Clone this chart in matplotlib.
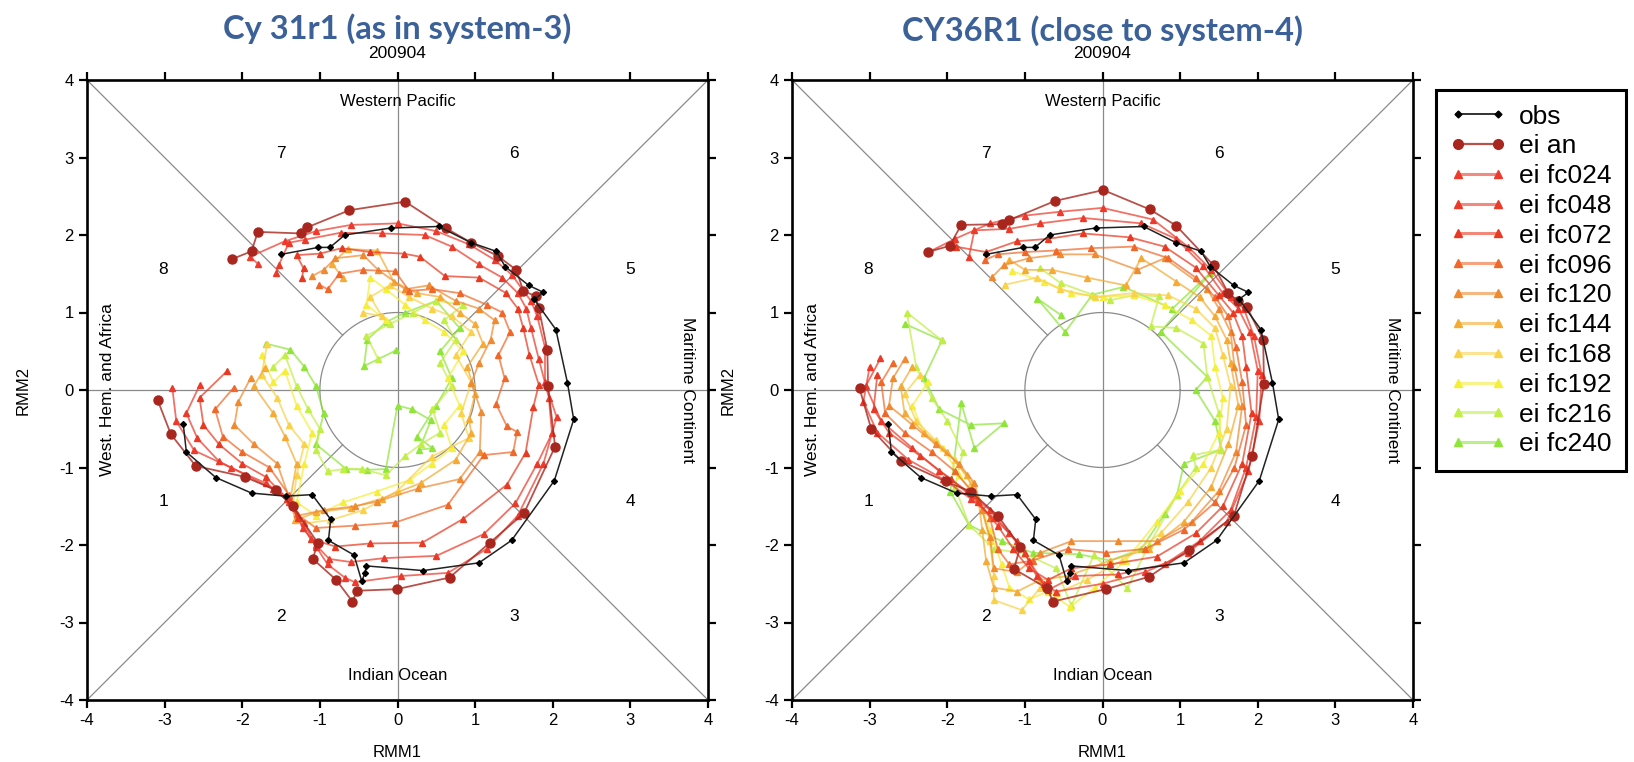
import numpy as np
import matplotlib.pyplot as plt
from matplotlib.colors import to_rgba
from matplotlib.lines import Line2D

plt.rcParams['font.family'] = ['Liberation Sans', 'DejaVu Sans']
plt.rcParams['axes.unicode_minus'] = False

# ---------------- data (RMM1, RMM2) ----------------
obs = [(-2.76, -0.44), (-2.72, -0.80), (-2.34, -1.13), (-1.88, -1.33), (-1.44, -1.37),
       (-1.10, -1.35), (-0.86, -1.67), (-0.89, -1.94), (-0.56, -2.13), (-0.46, -2.47),
       (-0.42, -2.36), (-0.40, -2.27), (0.33, -2.33), (1.05, -2.23), (1.47, -1.94),
       (2.02, -1.17), (2.27, -0.38), (2.19, 0.09), (2.04, 0.78), (1.76, 1.17),
       (1.88, 1.26), (1.69, 1.35), (1.39, 1.59), (1.27, 1.79), (0.95, 1.90),
       (0.53, 2.11), (-0.09, 2.09), (-0.68, 2.00), (-0.87, 1.84), (-1.02, 1.84), (-1.50, 1.75)]

# left panel: Cy31r1
an_left = [(-3.09, -0.13), (-2.92, -0.57), (-2.60, -0.98), (-1.97, -1.12), (-1.57, -1.29),
           (-1.35, -1.50), (-1.03, -1.97), (-1.09, -2.18), (-0.79, -2.45), (-0.58, -2.73),
           (-0.52, -2.59), (-0.01, -2.57), (0.67, -2.42), (1.19, -1.97), (1.63, -1.59),
           (2.03, -0.73), (1.94, 0.05), (1.93, 0.52), (1.82, 1.06), (1.78, 1.21), (1.62, 1.28),
           (1.53, 1.55), (1.29, 1.73), (0.95, 1.90), (0.62, 2.09), (0.10, 2.43), (-0.62, 2.32),
           (-1.16, 2.10), (-1.24, 2.02), (-1.80, 2.04), (-1.88, 1.79), (-2.13, 1.69)]

fc024_left = [(-2.90, 0.02), (-2.85, -0.40), (-2.62, -0.78), (-2.15, -1.00), (-1.70, -1.20),
              (-1.40, -1.40), (-1.20, -1.72), (-1.05, -2.02), (-0.90, -2.25), (-0.68, -2.42),
              (-0.55, -2.48), (0.05, -2.40), (0.65, -2.36), (1.15, -2.05), (1.55, -1.62),
              (1.88, -0.95), (2.05, -0.35), (1.90, 0.10), (1.90, 0.55), (1.80, 0.95),
              (1.72, 1.15), (1.62, 1.28), (1.48, 1.48), (1.25, 1.68), (0.92, 1.88), (0.50, 2.05),
              (0.00, 2.15), (-0.60, 2.13), (-1.05, 2.05), (-1.45, 1.92), (-1.90, 1.72), (-1.80, 1.63)]
fc048_left = [(-2.55, 0.06), (-2.72, -0.30), (-2.58, -0.62), (-2.30, -0.92), (-1.95, -1.10),
              (-1.60, -1.28), (-1.40, -1.44), (-1.22, -1.78), (-1.05, -2.00), (-0.88, -2.18),
              (-0.60, -2.22), (-0.18, -2.17), (0.50, -2.14), (1.11, -1.86), (1.52, -1.46),
              (1.80, -0.95), (1.99, -0.56), (1.95, -0.10), (1.82, 0.40), (1.72, 0.80),
              (1.66, 1.05), (1.55, 1.25), (1.35, 1.45), (1.05, 1.62), (0.70, 1.85), (0.35, 2.00),
              (-0.20, 2.02), (-0.73, 2.03), (-1.19, 1.94), (-1.40, 1.90), (-1.53, 1.61), (-1.56, 1.51)]
fc072_left = [(-2.20, 0.24), (-2.55, -0.10), (-2.50, -0.45), (-2.30, -0.70), (-2.00, -0.95),
              (-1.70, -1.12), (-1.42, -1.40), (-1.28, -1.65), (-1.12, -1.92), (-0.80, -2.02),
              (-0.35, -1.98), (0.32, -1.97), (0.85, -1.66), (1.41, -1.22), (1.65, -0.81),
              (1.75, -0.22), (1.82, 0.07), (1.70, 0.45), (1.62, 0.80), (1.55, 1.05), (1.40, 1.25),
              (1.05, 1.45), (0.61, 1.47), (0.29, 1.72), (0.08, 1.76), (-0.35, 1.78), (-0.72, 1.83),
              (-1.00, 1.76), (-1.30, 1.74), (-1.21, 1.57), (-1.23, 1.44)]
fc096_left = [(-2.11, 0.03), (-2.35, -0.25), (-2.25, -0.60), (-2.00, -0.80), (-1.65, -1.00),
              (-1.40, -1.35), (-1.30, -1.60), (-1.05, -1.78), (-0.55, -1.75), (-0.03, -1.71),
              (0.65, -1.48), (1.11, -0.84), (1.49, -0.80), (1.54, -0.54), (1.41, -0.47),
              (1.27, -0.18), (1.38, 0.15), (1.30, 0.45), (1.45, 0.75), (1.35, 1.00), (1.15, 1.10),
              (0.80, 1.25), (0.45, 1.30), (0.15, 1.28), (-0.03, 1.53), (-0.45, 1.55),
              (-0.75, 1.50), (-0.90, 1.30), (-1.01, 1.36)]
fc120_left = [(-1.89, 0.16), (-2.05, -0.15), (-2.10, -0.45), (-1.85, -0.70), (-1.55, -0.95),
              (-1.40, -1.38), (-1.28, -1.62), (-0.95, -1.55), (-0.55, -1.50), (-0.27, -1.44),
              (0.27, -1.27), (0.80, -1.15), (1.06, -0.80), (1.08, -0.28), (0.95, 0.09),
              (1.05, 0.35), (1.20, 0.65), (1.25, 0.90), (1.05, 1.05), (0.75, 1.15), (0.40, 1.35),
              (0.10, 1.30), (-0.25, 1.55), (-0.44, 1.74), (-0.80, 1.70), (-0.95, 1.55), (-1.10, 1.47)]
fc144_left = [(-1.71, 0.29), (-1.85, 0.05), (-1.60, -0.30), (-1.45, -0.60), (-1.30, -0.95),
              (-1.38, -1.40), (-1.32, -1.68), (-1.05, -1.58), (-0.60, -1.52), (-0.20, -1.40),
              (0.30, -1.20), (0.75, -0.90), (0.95, -0.55), (0.92, -0.37), (1.00, -0.05),
              (0.90, 0.30), (1.10, 0.60), (1.00, 0.85), (0.80, 1.00), (0.55, 1.20), (0.25, 1.25),
              (-0.05, 1.40), (-0.26, 1.80), (-0.64, 1.82), (-0.85, 1.63), (-0.70, 1.45)]
fc168_left = [(-1.68, 0.59), (-1.75, 0.20), (-1.55, -0.10), (-1.40, -0.45), (-1.20, -0.70),
              (-1.30, -1.10), (-1.35, -1.50), (-1.20, -1.72), (-0.87, -1.68), (-0.44, -1.55),
              (0.00, -1.30), (0.44, -0.86), (0.92, -0.62), (0.82, -0.30), (0.95, 0.10),
              (0.75, 0.45), (0.95, 0.75), (0.70, 0.95), (0.45, 1.05), (0.15, 1.20), (-0.10, 1.35),
              (-0.35, 1.20), (-0.20, 0.95), (-0.45, 1.00)]
fc192_left = [(-1.75, 0.45), (-1.60, 0.10), (-1.45, 0.25), (-1.30, -0.20), (-1.10, -0.55),
              (-1.20, -0.95), (-1.30, -1.45), (-1.05, -1.62), (-0.70, -1.45), (-0.27, -1.31),
              (0.16, -1.16), (0.44, -0.95), (0.70, -0.75), (0.60, -0.45), (0.80, -0.20),
              (0.65, 0.15), (0.85, 0.50), (0.60, 0.75), (0.35, 0.90), (0.10, 1.10), (-0.15, 1.30),
              (-0.35, 1.45), (-0.40, 1.10), (-0.15, 0.90)]
fc216_left = [(-1.60, 0.30), (-1.45, 0.45), (-1.30, 0.05), (-1.15, -0.25), (-1.00, -0.50),
              (-1.05, -0.77), (-0.90, -1.05), (-0.70, -1.02), (-0.46, -1.02), (-0.15, -1.10),
              (0.10, -0.85), (0.30, -0.70), (0.55, -0.55), (0.45, -0.25), (0.70, 0.05),
              (0.55, 0.35), (0.75, 0.65), (0.60, 0.90), (0.85, 1.10), (0.50, 1.15), (0.20, 1.00),
              (-0.10, 0.85), (-0.40, 0.70), (-0.25, 0.40)]
fc240_left = [(-1.70, 0.60), (-1.38, 0.52), (-1.20, 0.30), (-1.05, 0.05), (-0.95, -0.30),
              (-1.05, -0.70), (-0.66, -1.02), (-0.39, -1.03), (-0.15, -1.02), (0.00, -0.20),
              (0.19, -0.25), (0.43, -0.39), (0.28, -0.77), (0.45, -0.75), (0.25, -0.60),
              (0.50, -0.20), (0.70, 0.15), (0.55, 0.50), (0.80, 0.80), (0.50, 1.15), (0.10, 1.00),
              (-0.14, 0.88), (-0.39, 0.65), (-0.43, 0.31), (-0.02, 0.51)]

# right panel: CY36R1
an_right = [(-3.13, 0.02), (-2.98, -0.50), (-2.59, -0.92), (-2.02, -1.18), (-1.70, -1.31),
            (-1.35, -1.62), (-1.06, -2.02), (-1.14, -2.31), (-0.71, -2.56), (-0.64, -2.73),
            (0.04, -2.57), (0.60, -2.41), (1.12, -2.06), (1.69, -1.63), (1.93, -0.85),
            (2.08, 0.08), (2.07, 0.65), (1.86, 1.07), (1.75, 1.15), (1.62, 1.25), (1.43, 1.61),
            (0.95, 2.12), (0.61, 2.33), (0.01, 2.58), (-0.61, 2.44), (-1.21, 2.19),
            (-1.29, 2.14), (-1.82, 2.13), (-1.97, 1.86), (-2.25, 1.78)]

fc024_right = [(-3.00, 0.30), (-3.08, -0.15), (-2.90, -0.55), (-2.50, -0.90), (-2.05, -1.15),
               (-1.70, -1.40), (-1.40, -1.65), (-1.10, -1.95), (-0.95, -2.20), (-0.75, -2.50),
               (-0.60, -2.60), (0.00, -2.50), (0.55, -2.35), (1.10, -2.10), (1.60, -1.70),
               (1.88, -1.05), (2.02, -0.40), (2.05, 0.20), (1.95, 0.70), (1.82, 1.05),
               (1.65, 1.20), (1.40, 1.55), (1.10, 1.85), (0.65, 2.20), (0.00, 2.35),
               (-0.55, 2.30), (-1.00, 2.25), (-1.45, 2.15), (-1.90, 1.95), (-2.24, 1.78)]
fc048_right = [(-2.86, 0.41), (-3.05, 0.05), (-2.85, -0.40), (-2.45, -0.75), (-2.10, -1.05),
               (-1.75, -1.30), (-1.45, -1.55), (-1.20, -1.85), (-1.00, -2.10), (-0.85, -2.40),
               (-0.70, -2.58), (-0.35, -2.40), (0.20, -2.38), (0.80, -2.25), (1.25, -1.95),
               (1.65, -1.55), (1.85, -1.00), (1.98, -0.35), (2.00, 0.25), (1.90, 0.75),
               (1.75, 1.05), (1.55, 1.25), (1.30, 1.60), (0.95, 1.95), (0.50, 2.15),
               (-0.25, 2.22), (-0.80, 2.15), (-1.20, 2.08), (-1.65, 2.06), (-1.72, 1.72)]
fc072_right = [(-2.90, 0.20), (-2.95, -0.25), (-2.75, -0.55), (-2.35, -0.85), (-1.95, -1.15),
               (-1.60, -1.45), (-1.35, -1.75), (-1.15, -2.05), (-0.95, -2.30), (-0.70, -2.45),
               (-0.40, -2.30), (0.10, -2.25), (0.70, -2.15), (1.20, -1.85), (1.55, -1.50),
               (1.80, -0.95), (1.92, -0.30), (1.85, 0.30), (1.80, 0.70), (1.68, 1.00),
               (1.50, 1.22), (1.20, 1.58), (0.80, 1.85), (0.35, 1.97), (-0.25, 2.02),
               (-0.70, 1.95), (-1.10, 1.92), (-1.50, 1.78), (-1.89, 1.85)]
fc096_right = [(-2.70, 0.35), (-2.85, 0.10), (-2.80, -0.30), (-2.55, -0.55), (-2.20, -0.80),
               (-1.90, -1.05), (-1.65, -1.35), (-1.45, -1.65), (-1.35, -2.05), (-1.20, -2.25),
               (-0.90, -2.20), (-0.45, -2.05), (0.05, -2.10), (0.55, -2.05), (1.05, -1.80),
               (1.45, -1.45), (1.70, -1.00), (1.85, -0.45), (1.80, 0.10), (1.72, 0.55),
               (1.62, 0.95), (1.45, 1.20), (1.20, 1.45), (0.85, 1.70), (0.40, 1.85),
               (-0.15, 1.83), (-0.60, 1.80), (-1.00, 1.78), (-1.35, 1.75), (-1.51, 1.68)]
fc120_right = [(-2.55, 0.40), (-2.70, 0.15), (-2.75, -0.20), (-2.45, -0.45), (-2.15, -0.70),
               (-1.85, -0.95), (-1.65, -1.20), (-1.55, -1.55), (-1.45, -1.90), (-1.40, -2.30),
               (-1.10, -2.35), (-0.80, -2.10), (-0.40, -1.95), (0.20, -1.95), (0.70, -1.95),
               (1.15, -1.70), (1.50, -1.30), (1.72, -0.80), (1.80, -0.20), (1.70, 0.30),
               (1.65, 0.75), (1.50, 1.05), (1.35, 1.30), (0.80, 1.70), (0.45, 1.55),
               (-0.10, 1.75), (-0.55, 1.75), (-0.95, 1.70), (-1.27, 1.61), (-1.42, 1.46)]
fc144_right = [(-2.45, 0.30), (-2.60, 0.05), (-2.55, -0.30), (-2.30, -0.55), (-2.00, -0.80),
               (-1.75, -1.10), (-1.60, -1.40), (-1.55, -1.80), (-1.50, -2.20), (-1.40, -2.55),
               (-1.10, -2.60), (-0.80, -2.45), (-0.45, -2.40), (0.10, -2.20), (0.60, -2.05),
               (1.05, -1.70), (1.40, -1.25), (1.62, -0.70), (1.75, -0.20), (1.65, 0.35),
               (1.60, 0.65), (1.45, 0.95), (1.25, 1.20), (0.95, 1.40), (0.50, 1.70),
               (0.30, 1.35), (-0.20, 1.45), (-0.65, 1.55), (-1.00, 1.55), (-1.20, 1.68)]
fc168_right = [(-2.35, 0.20), (-2.55, -0.05), (-2.40, -0.40), (-2.15, -0.65), (-1.90, -0.90),
               (-1.70, -1.20), (-1.55, -1.55), (-1.45, -1.95), (-1.40, -2.40), (-1.40, -2.71),
               (-1.04, -2.84), (-0.80, -2.55), (-0.59, -2.62), (-0.20, -2.45), (0.25, -2.20),
               (0.75, -1.85), (1.10, -1.45), (1.40, -1.00), (1.60, -0.50), (1.65, 0.05),
               (1.55, 0.45), (1.45, 0.80), (1.20, 1.05), (0.85, 1.22), (0.40, 1.25),
               (-0.10, 1.20), (-0.55, 1.30), (-0.85, 1.45), (-1.25, 1.36)]
fc192_right = [(-2.25, 0.10), (-2.45, -0.20), (-2.30, -0.55), (-2.05, -0.75), (-1.85, -1.10),
               (-1.60, -1.40), (-1.45, -1.80), (-1.30, -2.25), (-1.20, -2.55), (-0.95, -2.70),
               (-0.70, -2.60), (-0.42, -2.80), (-0.10, -2.55), (0.30, -2.20), (0.70, -1.70),
               (1.00, -1.30), (1.30, -0.95), (1.50, -0.55), (1.55, -0.10), (1.45, 0.30),
               (1.40, 0.70), (1.15, 0.90), (0.80, 1.10), (0.40, 1.22), (0.00, 1.20),
               (-0.40, 1.25), (-0.75, 1.40), (-1.16, 1.53)]
fc216_right = [(-2.07, 0.64), (-2.52, 1.00), (-2.40, 0.30), (-2.20, -0.10), (-2.00, -0.40),
               (-1.80, -0.80), (-1.90, -1.25), (-1.72, -1.74), (-1.40, -2.05), (-1.01, -2.11),
               (-0.60, -2.30), (-0.40, -2.78), (-0.11, -2.13), (0.32, -2.56), (0.60, -2.00),
               (0.96, -1.35), (1.20, -1.00), (1.17, -0.84), (1.53, -0.77), (1.50, -0.30),
               (1.35, 0.17), (1.30, 0.60), (0.95, 0.80), (0.62, 0.82), (0.73, 1.21),
               (0.40, 1.22), (0.10, 1.16), (-0.13, 1.23), (-0.54, 1.38), (-0.80, 1.57)]
fc240_right = [(-2.54, 0.85), (-2.07, 0.64), (-2.30, 0.15), (-2.10, -0.25), (-1.70, -0.45),
               (-1.27, -0.43), (-1.65, -0.75), (-1.82, -0.17), (-1.96, -1.31), (-1.72, -1.74),
               (-1.30, -1.95), (-0.90, -2.10), (-0.30, -2.12), (0.10, -2.20), (0.50, -2.05),
               (0.80, -1.60), (0.96, -1.35), (1.05, -0.95), (1.53, -0.77), (1.45, -0.40),
               (1.20, 0.00), (1.35, 0.17), (0.75, 0.75), (1.39, 1.51), (0.90, 1.05),
               (0.27, 1.33), (-0.13, 1.23), (-0.48, 0.75), (-0.84, 1.18), (-0.54, 0.97)]

fc_labels = ['ei fc024', 'ei fc048', 'ei fc072', 'ei fc096', 'ei fc120',
             'ei fc144', 'ei fc168', 'ei fc192', 'ei fc216', 'ei fc240']
fc_colors = ['#ee3a2c', '#ec3a2a', '#e83a22', '#f0672a', '#f08a30',
             '#f5ab33', '#fad24a', '#f5ee3a', '#c2ee48', '#8fe53a']
an_color = '#a8261e'

panels = [
    ('Cy 31r1 (as in system-3)', an_left,
     [fc024_left, fc048_left, fc072_left, fc096_left, fc120_left,
      fc144_left, fc168_left, fc192_left, fc216_left, fc240_left], 87, 29),
    ('CY36R1 (close to system-4)', an_right,
     [fc024_right, fc048_right, fc072_right, fc096_right, fc120_right,
      fc144_right, fc168_right, fc192_right, fc216_right, fc240_right], 792, 31),
]

W, H = 1634, 762
fig = plt.figure(figsize=(W / 100, H / 100), dpi=100)

grey = '#8a8a8a'
for title, an, fcs, left_px, title_px in panels:
    ax = fig.add_axes([left_px / W, 62 / H, 621 / W, 620 / H])
    ax.set_xlim(-4, 4)
    ax.set_ylim(-4, 4)

    # phase diagram background
    ax.axhline(0, color=grey, lw=0.9, zorder=1)
    ax.axvline(0, color=grey, lw=0.9, zorder=1)
    r = np.sqrt(0.5)
    for sx in (-1, 1):
        for sy in (-1, 1):
            ax.plot([4 * sx, r * sx], [4 * sy, r * sy], color=grey, lw=0.9, zorder=1)
    th = np.linspace(0, 2 * np.pi, 300)
    ax.plot(np.cos(th), np.sin(th), color=grey, lw=0.9, zorder=1)

    for txt, x, y in [('7', -1.5, 3.05), ('6', 1.5, 3.05), ('8', -3.02, 1.56), ('5', 3.0, 1.56),
                      ('1', -3.02, -1.44), ('4', 3.0, -1.44), ('2', -1.5, -2.92), ('3', 1.5, -2.92)]:
        ax.text(x, y, txt, ha='center', va='center', fontsize=12.5)
    ax.text(0, 3.72, 'Western Pacific', ha='center', va='center', fontsize=12)
    ax.text(0, -3.68, 'Indian Ocean', ha='center', va='center', fontsize=12)
    ax.text(-3.73, 0, 'West. Hem. and Africa', ha='center', va='center', rotation=90, fontsize=12.5)
    ax.text(3.73, 0, 'Maritime Continent', ha='center', va='center', rotation=-90, fontsize=12.5)

    # forecasts, longest lead at the bottom
    for pts, c in reversed(list(zip(fcs, fc_colors))):
        x, y = zip(*pts)
        ax.plot(x, y, color=to_rgba(c, 0.72), lw=1.3, marker='^', ms=5,
                mfc=c, mec=c, zorder=3)
    x, y = zip(*an)
    ax.plot(x, y, color=to_rgba(an_color, 0.8), lw=1.3, marker='o', ms=6.5,
            mfc=an_color, mec=an_color, zorder=4)
    x, y = zip(*obs)
    ax.plot(x, y, color='#222222', lw=1.1, marker='D', ms=3, mfc='black', mec='black', zorder=5)

    ax.set_xticks(range(-4, 5))
    ax.set_yticks(range(-4, 5))
    ax.tick_params(direction='out', length=5.5, width=1.6, top=True, right=True,
                   labelsize=12, pad=4)
    for s in ax.spines.values():
        s.set_linewidth(1.9)
    ax.text(0.5, -0.084, 'RMM1', transform=ax.transAxes, ha='center', va='center', fontsize=12)
    ax.text(-0.103, 0.5, 'RMM2', transform=ax.transAxes, ha='center', va='center',
            rotation=90, fontsize=12)
    ax.text(0.5, 1.0435, '200904', transform=ax.transAxes, ha='center', va='center', fontsize=12.5)

    fig.text((left_px + 310.5) / W, 1 - title_px / H, title, ha='center', va='center',
             fontsize=23.5, fontweight='bold', family=['Lato', 'DejaVu Sans'], color='#3b6198')

handles = [Line2D([], [], color='#222222', lw=1.3, marker='D', ms=3.5, mfc='black', mec='black'),
           Line2D([], [], color=to_rgba(an_color, 0.8), lw=1.6, marker='o', ms=7,
                  mfc=an_color, mec=an_color)]
handles += [Line2D([], [], color=to_rgba(c, 0.6), lw=2.2, marker='^', ms=6, mfc=c, mec=c)
            for c in fc_colors]
leg = fig.legend(handles, ['obs', 'ei an'] + fc_labels, loc='upper left',
                 bbox_to_anchor=(1436 / W, 1 - 90 / H), numpoints=2, fontsize=19,
                 handlelength=2.1, handletextpad=0.5, borderpad=0.55, labelspacing=0.22,
                 borderaxespad=0, fancybox=False, framealpha=1)
leg.get_frame().set_edgecolor('black')
leg.get_frame().set_linewidth(2.2)

fig.savefig('out.png', dpi=100)
